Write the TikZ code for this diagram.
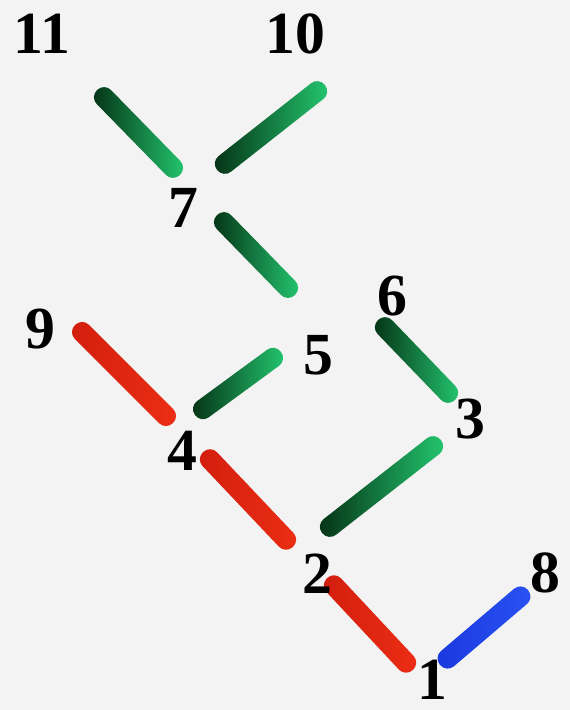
\documentclass[tikz,border=0pt]{standalone}
\usepackage{fontspec}
\setmainfont{Liberation Serif}
\usetikzlibrary{calc}
\definecolor{bgpaper}{RGB}{243,243,243}
\definecolor{greendark}{RGB}{4,48,20}
\definecolor{greenlight}{RGB}{36,200,112}
\definecolor{reddark}{RGB}{210,30,14}
\definecolor{redlight}{RGB}{236,46,20}
\definecolor{bluedark}{RGB}{26,56,222}
\definecolor{bluelight}{RGB}{42,82,242}
% one rod from end #1 (colour #3) to end #2 (colour #4)
\newcommand{\drawrod}[4]{%
  \path let \p1=($(#2)-(#1)$), \n1={veclen(\x1,\y1)} in
    (#1) -- node[rod, minimum width=\n1, left color=#3, right color=#4] {} (#2);}

\begin{document}
\begin{tikzpicture}[x=0.02cm, y=-0.02cm,
	lbl/.style={font=\fontsize{34}{34}\selectfont\bfseries, inner sep=0pt},
	rod/.style={rectangle, rounded corners=5.5pt, minimum height=0.4cm, inner sep=0pt, sloped, allow upside down}]
	\fill[bgpaper] (0,0) rectangle (570,710);
	% rod ends
	\foreach \n/\x/\y in {a11/97/90, b11/180/175, a10/217/170, b10/325/85, a7/217/215, b7/295/295,
		a9/75/325, b9/173/423, a5/195/415, b5/281/352, a6/378/320, b6/455/400,
		a4/203/452, b4/293/547, a3/322/533, b3/441/440, a2/327/578, b2/413/670, a8/440/665, b8/528/590}
		{\coordinate (\n) at (\x,\y);}
	\drawrod{a11}{b11}{greendark}{greenlight}
	\drawrod{a10}{b10}{greendark}{greenlight}
	\drawrod{a7}{b7}{greendark}{greenlight}
	\drawrod{a5}{b5}{greendark}{greenlight}
	\drawrod{a6}{b6}{greendark}{greenlight}
	\drawrod{a3}{b3}{greendark}{greenlight}
	\drawrod{a9}{b9}{reddark}{redlight}
	\drawrod{a4}{b4}{reddark}{redlight}
	\drawrod{a2}{b2}{reddark}{redlight}
	\drawrod{a8}{b8}{bluedark}{bluelight}
	% numbers
	\foreach \n/\x/\y in {11/42/34, 10/295/34, 7/183/208, 9/40/329, 5/318/355, 6/392/296,
		3/470/419, 4/182/451, 2/317/574, 8/545/573, 1/432/680}
		{\node[lbl] (n\n) at (\x,\y) {\n};}
\end{tikzpicture}
\end{document}
